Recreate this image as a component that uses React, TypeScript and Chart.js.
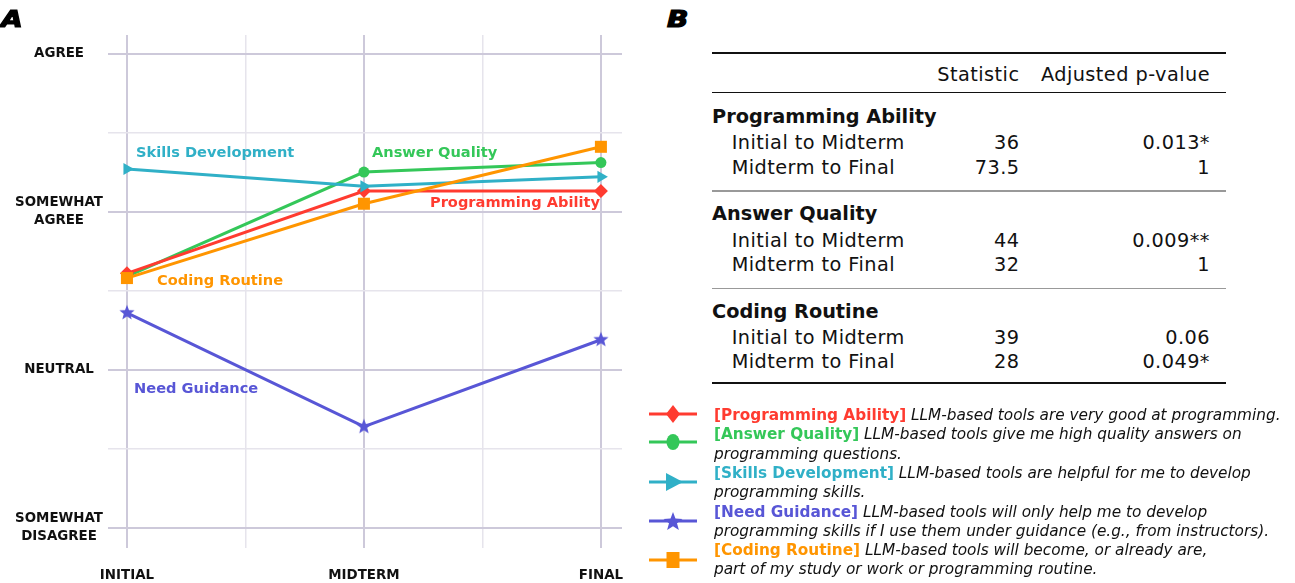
import React, { useEffect, useRef } from "react";
import { Chart, registerables } from "chart.js";

Chart.register(...registerables);

// ---------------- DATA ----------------
const timePoints = ["INITIAL", "MIDTERM", "FINAL"];
const levelValues = [2, 3, 4, 5];
const levelLabels = [["SOMEWHAT", "DISAGREE"], ["NEUTRAL"], ["SOMEWHAT", "AGREE"], ["AGREE"]];

const programmingAbility = [3.61, 4.13, 4.13];
const answerQuality = [3.59, 4.25, 4.31];
const skillsDevelopment = [4.27, 4.16, 4.22];
const needGuidance = [3.36, 2.64, 3.19];
const codingRoutine = [3.58, 4.05, 4.41];

const seriesNames = ["Programming Ability", "Answer Quality", "Skills Development", "Need Guidance", "Coding Routine"];
const seriesColors = ["#ff3b30", "#34c759", "#30b0c7", "#5856d6", "#ff9500"];

// in-chart label anchors (data units)
const labelX = [1.996, 1.034, 0.038, 0.03, 0.127];
const labelY = [4.053, 4.369, 4.369, 2.877, 3.559];
const labelAlign = ["right", "left", "left", "left", "left"];

// table
const tableHeaders = ["Statistic", "Adjusted p-value"];
const tableGroups = ["Programming Ability", "Answer Quality", "Coding Routine"];
const tableRowLabels = ["Initial to Midterm", "Midterm to Final"];
const tableStatistics = [["36", "73.5"], ["44", "32"], ["39", "28"]];
const tablePValues = [["0.013*", "1"], ["0.009**", "1"], ["0.06", "0.049*"]];

// legend
const legendTags = ["[Programming Ability]", "[Answer Quality]", "[Skills Development]", "[Need Guidance]", "[Coding Routine]"];
const legendLines = [
  ["LLM-based tools are very good at programming."],
  ["LLM-based tools give me high quality answers on", "programming questions."],
  ["LLM-based tools are helpful for me to develop", "programming skills."],
  ["LLM-based tools will only help me to develop", "programming skills if I use them under guidance (e.g., from instructors)."],
  ["LLM-based tools will become, or already are,", "part of my study or work or programming routine."],
];
const legendMarkers = ["diamond", "circle", "triangle", "star", "square"];

const FONT = "'DejaVu Sans', Inter, sans-serif";

function makeStar(color: string, outer: number, inner: number) {
  const size = Math.ceil(outer * 2 + 2);
  const c = document.createElement("canvas");
  c.width = size;
  c.height = size;
  const ctx = c.getContext("2d")!;
  const cx = size / 2, cy = size / 2;
  ctx.beginPath();
  for (let i = 0; i < 10; i++) {
    const r = i % 2 === 0 ? outer : inner;
    const a = -Math.PI / 2 + (i * Math.PI) / 5;
    const x = cx + r * Math.cos(a), y = cy + r * Math.sin(a);
    if (i === 0) ctx.moveTo(x, y); else ctx.lineTo(x, y);
  }
  ctx.closePath();
  ctx.fillStyle = color;
  ctx.fill();
  return c;
}

function LineChart() {
  const ref = useRef<HTMLCanvasElement>(null);
  useEffect(() => {
    const star = makeStar(seriesColors[3], 8, 3.4);
    const seriesValues = [programmingAbility, answerQuality, skillsDevelopment, needGuidance, codingRoutine];
    const styles: any[] = ["rectRot", "circle", "triangle", star, "rect"];
    const radii = [7, 5.5, 7, 8, 8.5];
    const rotations = [0, 0, 90, 0, 0];
    const orders = [3, 4, 2, 1, 0];
    const datasets = seriesNames.map((name, i) => ({
      label: name,
      data: seriesValues[i].map((v, j) => ({ x: j, y: v })),
      borderColor: seriesColors[i],
      backgroundColor: seriesColors[i],
      borderWidth: 3,
      pointStyle: styles[i],
      pointRadius: radii[i],
      pointRotation: rotations[i],
      pointBorderWidth: 0,
      order: orders[i],
      tension: 0,
    }));

    const labelPlugin = {
      id: "seriesLabels",
      afterDatasetsDraw(chart: any) {
        const { ctx, scales } = chart;
        ctx.save();
        ctx.font = `700 14.6px ${FONT}`;
        ctx.textBaseline = "middle";
        seriesNames.forEach((name, i) => {
          ctx.fillStyle = seriesColors[i];
          ctx.textAlign = labelAlign[i];
          ctx.fillText(name, scales.x.getPixelForValue(labelX[i]), scales.y.getPixelForValue(labelY[i]));
        });
        ctx.restore();
      },
    };

    const major = "#cdc9da";
    const minor = "#e6e4ec";
    const chart = new Chart(ref.current!, {
      type: "line",
      data: { datasets },
      plugins: [labelPlugin],
      options: {
        animation: false,
        responsive: false,
        maintainAspectRatio: false,
        layout: { padding: { top: 35, right: 28, left: 0, bottom: 0 } },
        plugins: { legend: { display: false }, tooltip: { enabled: false } },
        scales: {
          x: {
            type: "linear",
            min: -0.08,
            max: 2.089,
            afterBuildTicks: (s: any) => { s.ticks = [0, 0.5, 1, 1.5, 2].map((v) => ({ value: v })); },
            afterFit: (s: any) => { s.height = 35; },
            border: { display: false },
            grid: {
              drawTicks: false,
              color: (c: any) => (c.tick && c.tick.value % 1 === 0 ? major : minor),
              lineWidth: (c: any) => (c.tick && c.tick.value % 1 === 0 ? 2 : 1.5),
            },
            ticks: {
              padding: 19,
              color: "#111",
              font: { family: FONT, size: 13.4, weight: "700" as any },
              maxRotation: 0,
              autoSkip: false,
              callback: (v: any) => (Number(v) % 1 === 0 ? timePoints[Number(v)] : ""),
            },
          },
          y: {
            type: "linear",
            min: 1.873,
            max: 5.117,
            afterBuildTicks: (s: any) => { s.ticks = [2, 2.5, 3, 3.5, 4, 4.5, 5].map((v) => ({ value: v })); },
            afterFit: (s: any) => { s.width = 108; },
            border: { display: false },
            grid: {
              drawTicks: false,
              color: (c: any) => (c.tick && c.tick.value % 1 === 0 ? major : minor),
              lineWidth: (c: any) => (c.tick && c.tick.value % 1 === 0 ? 2 : 1.5),
            },
            ticks: {
              padding: 5,
              crossAlign: "center",
              color: "#111",
              font: { family: FONT, size: 13.4, weight: "700" as any, lineHeight: 1.33 },
              autoSkip: false,
              callback: (v: any) => {
                const idx = levelValues.indexOf(Number(v));
                return idx >= 0 ? levelLabels[idx] : "";
              },
            },
          },
        },
      },
    });
    return () => chart.destroy();
  }, []);
  return <canvas ref={ref} width={650} height={583} style={{ position: "absolute", left: 0, top: 0, width: 650, height: 583 }} />;
}

function T(props: { cy: number; left?: number; right?: number; size: number; weight?: number; italic?: boolean; color?: string; ls?: number; children: any }) {
  const lh = 24;
  const st: any = {
    position: "absolute",
    top: props.cy - lh / 2,
    lineHeight: `${lh}px`,
    fontSize: props.size,
    fontWeight: props.weight ?? 400,
    fontStyle: props.italic ? "italic" : "normal",
    color: props.color ?? "#111",
    whiteSpace: "pre",
    fontFamily: FONT,
    letterSpacing: props.ls ?? 0,
  };
  if (props.left !== undefined) st.left = props.left;
  if (props.right !== undefined) { st.right = 1295 - props.right - (props.ls ?? 0); st.textAlign = "right"; }
  return <div style={st}>{props.children}</div>;
}

function Rule(props: { y: number; h: number; color: string }) {
  return <div style={{ position: "absolute", left: 712, width: 514, top: props.y - props.h / 2, height: props.h, background: props.color }} />;
}

function Marker(props: { kind: string; color: string; cy: number }) {
  const c = props.color;
  const cx = 24;
  let shape: any = null;
  if (props.kind === "diamond") shape = <polygon points={`${cx},2 ${cx + 7},11 ${cx},20 ${cx - 7},11`} fill={c} />;
  else if (props.kind === "circle") shape = <ellipse cx={cx} cy={11} rx={6.5} ry={8} fill={c} />;
  else if (props.kind === "triangle") shape = <polygon points={`${cx - 7},2 ${cx + 10},11 ${cx - 7},20`} fill={c} />;
  else if (props.kind === "star") {
    const pts: string[] = [];
    for (let i = 0; i < 10; i++) {
      const r = i % 2 === 0 ? 10 : 4.2;
      const a = -Math.PI / 2 + (i * Math.PI) / 5;
      pts.push(`${cx + r * Math.cos(a)},${11 + 1 + r * Math.sin(a)}`);
    }
    shape = <polygon points={pts.join(" ")} fill={c} />;
  } else if (props.kind === "square") shape = <rect x={cx - 6.5} y={3} width={13} height={16} fill={c} />;
  return (
    <svg width={50} height={22} style={{ position: "absolute", left: 649, top: props.cy - 11 }}>
      <line x1={0} y1={11} x2={48} y2={11} stroke={c} strokeWidth={3} />
      {shape}
    </svg>
  );
}

function PanelLetter(props: { left: number; children: any }) {
  return (
    <div
      style={{
        position: "absolute",
        left: props.left,
        top: 3,
        fontSize: 23,
        fontWeight: 700,
        fontStyle: "italic",
        fontFamily: FONT,
        lineHeight: "32px",
        WebkitTextStroke: "1.2px #000",
        transform: "scaleX(1.22)",
        transformOrigin: "left center",
      }}
    >
      {props.children}
    </div>
  );
}

export default function App() {
  const lineY = (k: number) => 415 + 19.3 * k;
  const legendStart = [0, 1, 3, 5, 7];
  const markerY = [414.3, 441.7, 482.3, 521, 560];
  const TS = 19.3; // table font size
  const LS = 0.45;
  return (
    <div style={{ position: "fixed", left: 0, top: 0, width: 1295, height: 583, background: "#fff", overflow: "hidden", fontFamily: FONT }}>
      <LineChart />
      <PanelLetter left={1}>A</PanelLetter>
      <PanelLetter left={667}>B</PanelLetter>

      {/* table */}
      <Rule y={53.3} h={2} color="#111" />
      <T cy={75} right={1019} size={TS} ls={LS}>{tableHeaders[0]}</T>
      <T cy={75} right={1209.5} size={TS} ls={LS}>{tableHeaders[1]}</T>
      <Rule y={92.5} h={1.5} color="#111" />
      {tableGroups.map((g, gi) => {
        const base = 117 + 97.3 * gi;
        return (
          <React.Fragment key={g}>
            <T cy={base} left={712} size={TS} weight={700}>{g}</T>
            {tableRowLabels.map((r, ri) => (
              <React.Fragment key={r}>
                <T cy={base + 26.3 + 24.5 * ri} left={731.7} size={TS} ls={LS}>{r}</T>
                <T cy={base + 26.3 + 24.5 * ri} right={1019} size={TS} ls={LS}>{tableStatistics[gi][ri]}</T>
                <T cy={base + 26.3 + 24.5 * ri} right={1209.5} size={TS} ls={LS}>{tablePValues[gi][ri]}</T>
              </React.Fragment>
            ))}
            {gi < tableGroups.length - 1 && <Rule y={base + 74} h={1.5} color="#999" />}
          </React.Fragment>
        );
      })}
      <Rule y={382.7} h={2} color="#111" />

      {/* legend */}
      {legendTags.map((tag, i) => (
        <React.Fragment key={tag}>
          <Marker kind={legendMarkers[i]} color={seriesColors[i]} cy={markerY[i]} />
          {legendLines[i].map((ln, li) => (
            <T key={li} cy={lineY(legendStart[i] + li)} left={714} size={15.3} italic>
              {li === 0 ? (
                <>
                  <span style={{ color: seriesColors[i], fontWeight: 700, fontStyle: "normal" }}>{tag}</span>
                  {" " + ln}
                </>
              ) : ln}
            </T>
          ))}
        </React.Fragment>
      ))}
    </div>
  );
}
